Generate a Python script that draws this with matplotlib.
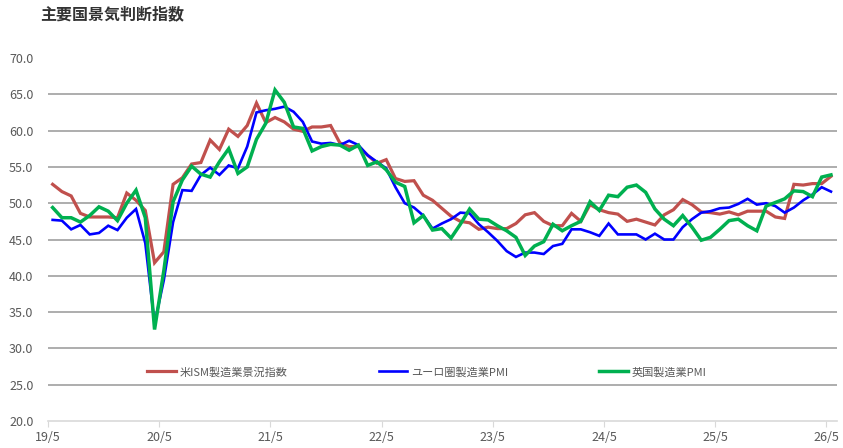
import numpy as np
import matplotlib
matplotlib.use("Agg")
import matplotlib.pyplot as plt

plt.rcParams["font.family"] = ["Noto Sans CJK JP", "DejaVu Sans"]

TITLE = "主要国景気判断指数"
SERIES_NAMES = ["米ISM製造業景況指数", "ユーロ圏製造業PMI", "英国製造業PMI"]
TICK_LABELS = ["19/5", "20/5", "21/5", "22/5", "23/5", "24/5", "25/5", "26/5"]

# monthly values, 2019/5 .. 2026/5
us_ism = [52.6, 51.6, 51.0, 48.6, 48.1, 48.1, 48.1, 48.0, 51.4, 50.4,
          49.0, 41.8, 43.3, 52.6, 53.5, 55.4, 55.6, 58.7, 57.4, 60.2,
          59.2, 60.7, 63.8, 61.1, 61.8, 61.2, 60.2, 59.9, 60.5, 60.5,
          60.7, 58.3, 57.8, 57.8, 56.6, 55.5, 56.0, 53.4, 53.0, 53.1,
          51.1, 50.4, 49.3, 48.2, 47.5, 47.3, 46.4, 46.7, 46.5, 46.5,
          47.2, 48.4, 48.7, 47.5, 46.9, 46.9, 48.6, 47.5, 49.8, 49.1,
          48.7, 48.5, 47.5, 47.8, 47.4, 47.0, 48.4, 49.1, 50.5, 49.8,
          48.8, 48.7, 48.5, 48.8, 48.4, 48.9, 48.9, 48.9, 48.1, 47.9,
          52.6, 52.5, 52.7, 52.7, 53.7]
euro_pmi = [47.7, 47.6, 46.4, 47.0, 45.7, 45.9, 46.9, 46.3, 48.0, 49.2,
            44.5, 33.4, 39.4, 47.4, 51.8, 51.7, 53.9, 54.9, 53.9, 55.2,
            54.8, 57.8, 62.5, 62.8, 63.0, 63.3, 62.6, 61.2, 58.5, 58.2,
            58.3, 58.0, 58.6, 58.0, 56.6, 55.7, 54.8, 52.2, 50.0, 49.4,
            48.3, 46.5, 47.2, 47.8, 48.7, 48.6, 47.1, 46.0, 44.8, 43.4,
            42.6, 43.2, 43.2, 43.0, 44.1, 44.4, 46.4, 46.4, 46.0, 45.5,
            47.2, 45.7, 45.7, 45.7, 45.0, 45.8, 45.0, 45.0, 46.7, 47.8,
            48.7, 48.9, 49.3, 49.4, 49.9, 50.6, 49.8, 50.0, 49.6, 48.7,
            49.4, 50.4, 51.2, 52.2, 51.6]
uk_pmi = [49.4, 48.0, 48.0, 47.4, 48.3, 49.5, 48.9, 47.6, 50.0, 51.8,
          48.0, 32.6, 40.7, 50.2, 53.2, 55.1, 54.0, 53.6, 55.7, 57.5,
          54.1, 55.0, 58.8, 61.0, 65.6, 63.9, 60.5, 60.3, 57.2, 57.8,
          58.1, 58.0, 57.3, 58.0, 55.2, 55.7, 54.6, 52.9, 52.3, 47.3,
          48.3, 46.3, 46.5, 45.2, 47.1, 49.2, 47.8, 47.7, 46.9, 46.2,
          45.3, 42.8, 44.1, 44.7, 47.1, 46.2, 46.9, 47.5, 50.2, 49.0,
          51.1, 50.9, 52.2, 52.5, 51.5, 49.2, 47.8, 46.9, 48.3, 46.7,
          44.9, 45.3, 46.4, 47.6, 47.8, 46.9, 46.2, 49.6, 50.1, 50.6,
          51.7, 51.6, 50.9, 53.6, 53.9]

COLORS = ["#c0504d", "#0000ff", "#00b050"]
WIDTHS = [2.3, 1.9, 2.5]

fig = plt.figure(figsize=(8.43, 4.48), dpi=100)
ax = fig.add_axes([48 / 843, 1 - 421 / 448, (837 - 48) / 843, (421 - 58) / 448])

months = np.arange(len(us_ism))
for vals, name, c, w in zip([us_ism, euro_pmi, uk_pmi], SERIES_NAMES, COLORS, WIDTHS):
    ax.plot(months, vals, color=c, lw=w, label=name, solid_joinstyle="miter")

ax.set_ylim(20, 70)
ax.set_xlim(-0.5, 84.65)
ax.set_yticks(np.arange(20, 71, 5))
ax.set_yticklabels([f"{v:.1f}" for v in np.arange(20, 71, 5)])
for v in range(25, 70, 5):
    ax.axhline(v, color="#a0a0a0", lw=1.2, zorder=0)

ax.set_xticks(np.arange(len(TICK_LABELS)) * 12 - 0.5)
ax.set_xticklabels(TICK_LABELS)

for s in ["top", "right", "left"]:
    ax.spines[s].set_visible(False)
ax.spines["bottom"].set_color("#d9d9d9")
ax.spines["bottom"].set_linewidth(1.2)
ax.tick_params(axis="y", length=0, pad=10.5, labelsize=9, labelcolor="#595959")
ax.tick_params(axis="x", length=4, color="#d9d9d9", pad=3, labelsize=9,
               labelcolor="#595959")

ax.legend(loc="center", bbox_to_anchor=(0.48, 0.135), ncol=3, frameon=False,
          fontsize=8, handlelength=2.6, handletextpad=0.3, columnspacing=8.2,
          labelcolor="#595959", borderpad=0)

fig.text(40 / 843, 1 - 14 / 448, TITLE, fontsize=11.5, fontweight="bold",
         color="#333333", va="center", ha="left")

fig.savefig("out.png", dpi=100)
